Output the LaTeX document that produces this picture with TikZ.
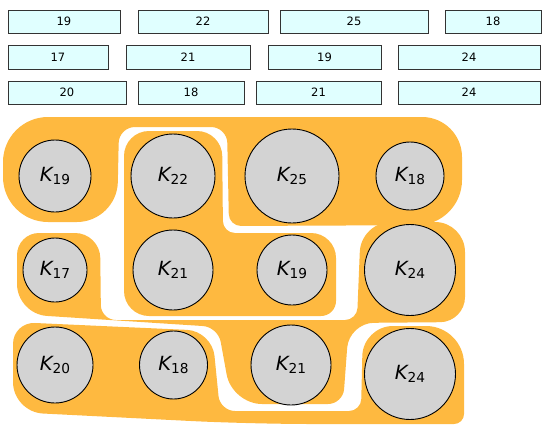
\documentclass[tikz,border=0pt]{standalone}
\usepackage{fontspec}
\setmainfont{DejaVu Sans}
\definecolor{blobc}{RGB}{254,185,64}
\definecolor{boxfill}{RGB}{224,255,255}
\definecolor{circfill}{RGB}{211,211,211}
\tikzset{
 box/.style={draw=black!80, line width=0.8pt, fill=boxfill, inner sep=0pt, font=\fontsize{11.5}{12}\selectfont},
 kc/.style={circle, draw=black, line width=0.9pt, fill=circfill, inner sep=0pt},
 blob/.style={fill=blobc}
}
\newcommand\klab[1]{{\fontsize{19.5}{20}\selectfont\itshape K}\raisebox{-3.3pt}{\fontsize{13.7}{14}\selectfont #1}}
\begin{document}
\begin{tikzpicture}[x=1pt,y=-1pt]
\useasboundingbox (0,0) rectangle (548,425);
% boxes
\node[box, minimum width=112pt, minimum height=23pt] (r1a) at (64,21.5) {19};
\node[box, minimum width=130pt, minimum height=23pt] (r1b) at (203,21.5) {22};
\node[box, minimum width=148pt, minimum height=23pt] (r1c) at (354,21.5) {25};
\node[box, minimum width=96pt, minimum height=23pt] (r1d) at (493,21.5) {18};
\node[box, minimum width=100pt, minimum height=24pt] (r2a) at (58,57) {17};
\node[box, minimum width=124pt, minimum height=24pt] (r2b) at (188,57) {21};
\node[box, minimum width=113pt, minimum height=24pt] (r2c) at (324.5,57) {19};
\node[box, minimum width=142pt, minimum height=24pt] (r2d) at (469,57) {24};
\node[box, minimum width=118pt, minimum height=23pt] (r3a) at (67,92.5) {20};
\node[box, minimum width=106pt, minimum height=23pt] (r3b) at (191,92.5) {18};
\node[box, minimum width=125pt, minimum height=23pt] (r3c) at (318.5,92.5) {21};
\node[box, minimum width=142pt, minimum height=23pt] (r3d) at (469,92.5) {24};
% blob A
\fill[blob] (230,117) [rounded corners=40pt] -- (462,117) [rounded corners=45pt] -- (462,225)
  [rounded corners=12pt] -- (229,226) [rounded corners=16pt] -- (227,127) [rounded corners=16pt] -- (119,127)
  [rounded corners=40pt] -- (117,222) [rounded corners=45pt] -- (3,222) [rounded corners=45pt] -- (3,117)
  [sharp corners] -- cycle;
% blob B
\fill[blob] (124,220) [rounded corners=25pt] -- (124,131) [rounded corners=25pt] -- (222,131)
  [rounded corners=12pt] -- (223,233) [rounded corners=25pt] -- (336,233) [rounded corners=15pt] -- (336,316)
  [rounded corners=25pt] -- (124,316) [sharp corners] -- cycle;
% blob C
\fill[blob] (17,275) [rounded corners=22pt] -- (17,233) [rounded corners=25pt] -- (100,233)
  [rounded corners=15pt] -- (101,320) [rounded corners=12pt] -- (357,320) [rounded corners=30pt] -- (361,222)
  [rounded corners=30pt] -- (465,222) [rounded corners=25pt] -- (465,322) [rounded corners=25pt] -- (349,323)
  [rounded corners=15pt] -- (343,404) [rounded corners=30pt] -- (232,404) [rounded corners=15pt] -- (218,327)
  [rounded corners=30pt] -- (17,314) [sharp corners] -- cycle;
% blob D
\fill[blob] (13,370) [rounded corners=22pt] -- (13,322) [rounded corners=25pt] -- (212,331)
  [rounded corners=15pt] -- (220,411) [rounded corners=12pt] -- (361,411) [rounded corners=30pt] -- (363,326)
  [rounded corners=38pt] -- (464,326) [rounded corners=10pt] -- (464,424) [rounded corners=60pt] -- (250,424)
  [rounded corners=30pt] -- (13,412) [sharp corners] -- cycle;
% circles
\node[kc, minimum size=72pt] (c1) at (55,176) {\klab{19}};
\node[kc, minimum size=84pt] (c2) at (173,176) {\klab{22}};
\node[kc, minimum size=94pt] (c3) at (292,176) {\klab{25}};
\node[kc, minimum size=68pt] (c4) at (410,176) {\klab{18}};
\node[kc, minimum size=64pt] (c5) at (55,270) {\klab{17}};
\node[kc, minimum size=80pt] (c6) at (173,270) {\klab{21}};
\node[kc, minimum size=70pt] (c7) at (292,270) {\klab{19}};
\node[kc, minimum size=91pt] (c8) at (410,270) {\klab{24}};
\node[kc, minimum size=76pt] (c9) at (55,365) {\klab{20}};
\node[kc, minimum size=68pt] (c10) at (173.5,365) {\klab{18}};
\node[kc, minimum size=80pt] (c11) at (291,365) {\klab{21}};
\node[kc, minimum size=91pt] (c12) at (410,374) {\klab{24}};
\end{tikzpicture}
\end{document}
